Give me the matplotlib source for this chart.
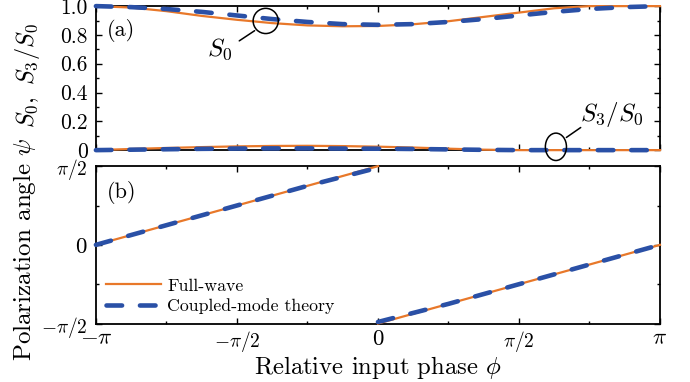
import numpy as np
import matplotlib

matplotlib.use("Agg")
import matplotlib.pyplot as plt
from matplotlib.patches import Ellipse
from matplotlib.ticker import MultipleLocator

plt.rcParams["font.family"] = "serif"
plt.rcParams["font.serif"] = ["cmr10", "DejaVu Serif"]
plt.rcParams["mathtext.fontset"] = "cm"
plt.rcParams["axes.unicode_minus"] = False

ORANGE = "#E8782A"
BLUE = "#2A50A6"

# phase grid in units of pi (steps of pi/8)
phase = np.linspace(-1.0, 1.0, 17)

s0_fullwave = [1.0, 0.99, 0.965, 0.932, 0.905, 0.882, 0.866, 0.86, 0.862,
               0.874, 0.895, 0.925, 0.955, 0.985, 1.0, 1.0, 1.0]
s0_cmt = [1.0, 0.993, 0.98, 0.96, 0.935, 0.91, 0.89, 0.875, 0.87,
          0.875, 0.89, 0.91, 0.935, 0.96, 0.98, 0.993, 1.0]
s3_fullwave = [0.0, 0.008, 0.015, 0.021, 0.026, 0.029, 0.03, 0.028, 0.024,
               0.018, 0.01, 0.003, 0.0, 0.0, 0.0, 0.0, 0.0]
s3_cmt = [0.0, 0.003, 0.006, 0.009, 0.011, 0.012, 0.012, 0.011, 0.01,
          0.008, 0.005, 0.002, 0.0, 0.0, 0.0, 0.0, 0.0]

# polarization angle (units of pi), two branches
phase_left = [-1.0, -0.75, -0.5, -0.25, 0.0]
phase_right = [0.0, 0.25, 0.5, 0.75, 1.0]
psi_fw_left = [0.0, 0.125, 0.25, 0.375, 0.5]
psi_fw_right = [-0.5, -0.375, -0.25, -0.125, 0.0]
psi_cmt_left = [0.0, 0.125, 0.25, 0.375, 0.49]
psi_cmt_right = [-0.49, -0.375, -0.25, -0.125, 0.0]

pi_ticks = [-np.pi, -np.pi / 2, 0, np.pi / 2, np.pi]
pi_labels = [r"$-\pi$", r"$-\pi/2$", r"$0$", r"$\pi/2$", r"$\pi$"]

fig = plt.figure(figsize=(6.9, 3.82), dpi=100)
ax1 = fig.add_axes([0.139, 0.607, 0.8175, 0.377])
ax2 = fig.add_axes([0.139, 0.153, 0.8175, 0.412])

x = np.array(phase) * np.pi
dash_kw = dict(color=BLUE, lw=3.3, dashes=(3.4, 3.9), dash_capstyle="round", clip_on=False, zorder=4)
solid_kw = dict(color=ORANGE, lw=1.6, clip_on=False, zorder=3)

ax1.plot(x, s0_fullwave, **solid_kw)
ax1.plot(x, s3_fullwave, **solid_kw)
ax1.plot(x, s0_cmt, **dash_kw)
ax1.plot(x, s3_cmt, **dash_kw)

ax2.plot(np.array(phase_left) * np.pi, np.array(psi_fw_left) * np.pi, label="Full-wave", **solid_kw)
ax2.plot(np.array(phase_right) * np.pi, np.array(psi_fw_right) * np.pi, **solid_kw)
ax2.plot(np.array(phase_left) * np.pi, np.array(psi_cmt_left) * np.pi, label="Coupled-mode theory", **dash_kw)
ax2.plot(np.array(phase_right) * np.pi, np.array(psi_cmt_right) * np.pi, **dash_kw)

for ax in (ax1, ax2):
    ax.set_xlim(-np.pi, np.pi)
    ax.set_xticks(pi_ticks)
    ax.xaxis.set_minor_locator(MultipleLocator(np.pi / 4))
    ax.tick_params(which="both", direction="in", top=True, right=True, width=1.0)
    ax.tick_params(which="major", length=4, pad=6)
    ax.tick_params(which="minor", length=2.5)
    for sp in ax.spines.values():
        sp.set_linewidth(1.3)

ax1.set_ylim(0, 1.0)
ax1.set_yticks([0, 0.2, 0.4, 0.6, 0.8, 1.0])
ax1.set_yticklabels(["0", "0.2", "0.4", "0.6", "0.8", "1.0"], fontsize=15.5)
ax1.yaxis.set_minor_locator(MultipleLocator(0.1))
ax1.set_xticklabels([])
ax1.set_ylabel(r"$S_0,\ S_3/S_0$", fontsize=17.5, va="center")
ax1.text(0.02, 0.79, "(a)", transform=ax1.transAxes, fontsize=16)

ax2.set_ylim(-np.pi / 2, np.pi / 2)
ax2.set_yticks([-np.pi / 2, 0, np.pi / 2])
ax2.set_yticklabels([r"$-\pi/2$", r"$0$", r"$\pi/2$"])
ax2.yaxis.set_minor_locator(MultipleLocator(np.pi / 4))
ax2.set_xticklabels(pi_labels)
for lbl in ax2.get_xticklabels() + ax2.get_yticklabels():
    lbl.set_fontsize(14 if "/" in lbl.get_text() else 16.5)
ax2.tick_params(axis="x", pad=4)
ax2.set_ylabel(r"Polarization angle $\psi$", fontsize=18, va="center")
ax2.set_xlabel(r"Relative input phase $\phi$", fontsize=17.8, labelpad=0)
ax2.text(0.02, 0.8, "(b)", transform=ax2.transAxes, fontsize=16)

ax1.yaxis.set_label_coords(-0.122, 0.52)
ax2.yaxis.set_label_coords(-0.126, 0.47)

leg = ax2.legend(loc="lower left", frameon=False, fontsize=12.8, handlelength=3.1,
                 handletextpad=0.35, borderaxespad=0.15, labelspacing=0.25)

# annotation circles (sizes in data units matching ~25 px)
ax1.add_patch(Ellipse((-0.398 * np.pi, 0.897), 0.28, 0.175, fill=False, lw=1.1,
                      color="k", zorder=5, clip_on=False))
ax1.annotate("", xy=(-0.429 * np.pi, 0.84), xytext=(-0.5 * np.pi, 0.748),
             arrowprops=dict(arrowstyle="-", lw=1.1, color="k"))
ax1.text(-0.56 * np.pi, 0.70, r"$S_0$", fontsize=18, ha="center", va="center")

ax1.add_patch(Ellipse((0.631 * np.pi, 0.023), 0.235, 0.19, fill=False, lw=1.1,
                      color="k", zorder=5, clip_on=False))
ax1.annotate("", xy=(0.66 * np.pi, 0.077), xytext=(0.727 * np.pi, 0.168),
             arrowprops=dict(arrowstyle="-", lw=1.1, color="k"))
ax1.text(0.83 * np.pi, 0.245, r"$S_3/S_0$", fontsize=18, ha="center", va="center")

fig.savefig("out.png", dpi=100)
